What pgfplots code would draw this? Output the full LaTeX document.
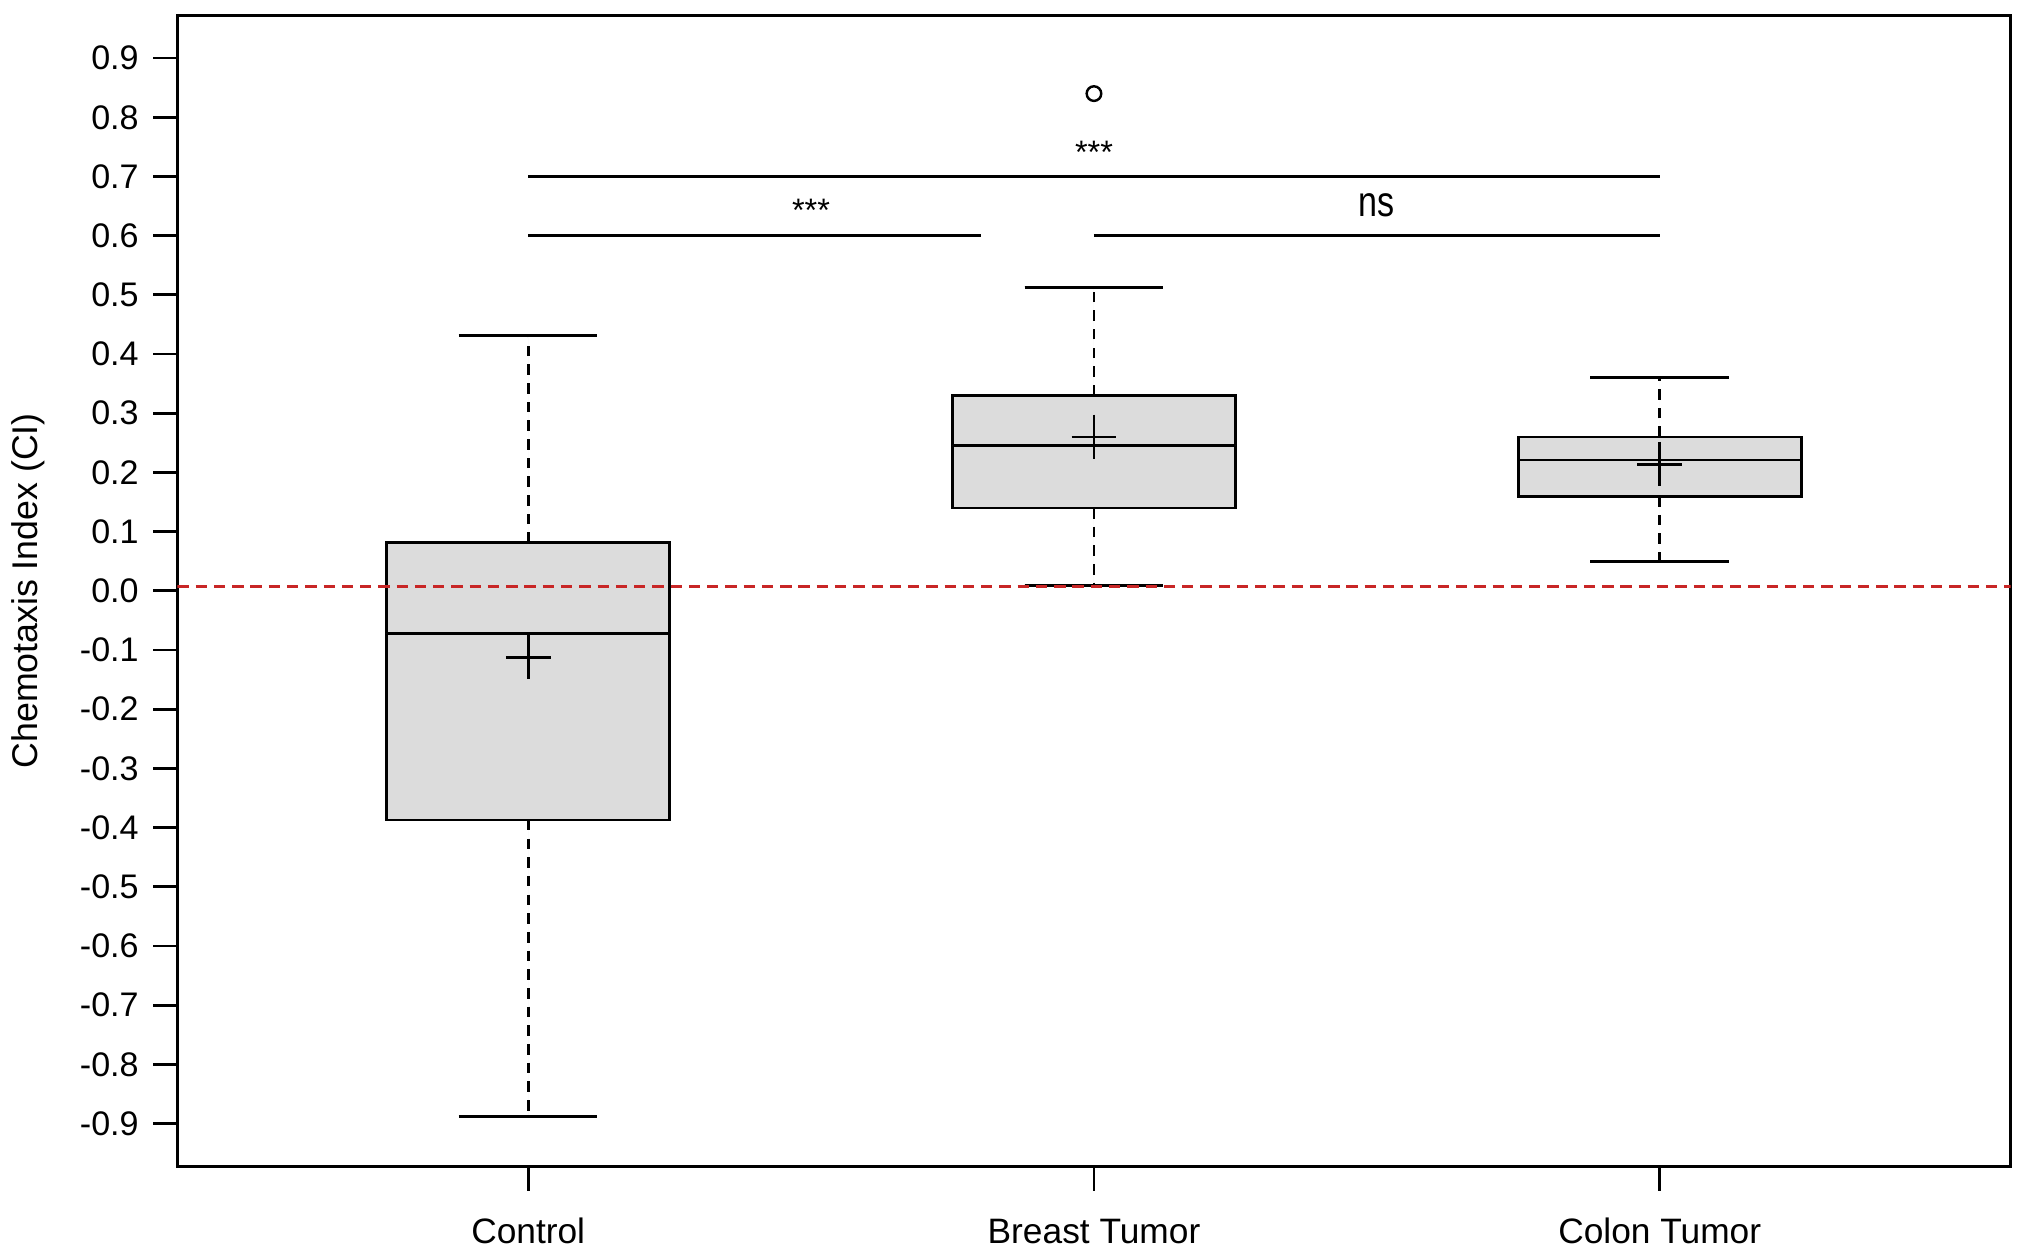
\documentclass[border=0pt]{standalone}
\usepackage{fontspec}
\setmainfont{Liberation Sans}
\usepackage{graphicx}
\usepackage{pgfplots}
\pgfplotsset{compat=1.18}
\usepgfplotslibrary{statistics}
\definecolor{boxgray}{RGB}{220,220,220}
\definecolor{refred}{RGB}{200,38,38}
\begin{document}
\begin{tikzpicture}
\path[use as bounding box] (-43.7pt,-20.8pt) rectangle (456.4pt,287.3pt);
\begin{axis}[
  at={(0pt,0pt)}, anchor=south west,
  scale only axis, width=451.6pt, height=283.5pt,
  xmin=0.38, xmax=3.62, ymin=-0.972, ymax=0.972,
  axis line style={line width=0.7pt},
  tick align=outside, tick pos=left,
  major tick length=6pt,
  every tick/.style={black,line width=0.7pt},
  xtick={1,2,3}, xticklabels={Control,Breast Tumor,Colon Tumor},
  ytick={-0.9,-0.8,-0.7,-0.6,-0.5,-0.4,-0.3,-0.2,-0.1,0,0.1,0.2,0.3,0.4,0.5,0.6,0.7,0.8,0.9},
  yticklabels={-0.9,-0.8,-0.7,-0.6,-0.5,-0.4,-0.3,-0.2,-0.1,0.0,0.1,0.2,0.3,0.4,0.5,0.6,0.7,0.8,0.9},
  yticklabel style={font=\fontsize{8.4}{10}\selectfont},
  xticklabel style={font=\fontsize{8.7}{10}\selectfont, yshift=-1.0pt, text height=1.6ex, text depth=0.3ex},
  ylabel={Chemotaxis Index (CI)},
  every axis y label/.style={at={(axis description cs:-0.0813,0.5)}, rotate=90, anchor=center, font=\fontsize{8.8}{10}\selectfont},
  boxplot/draw direction=y,
  boxplot/every whisker/.style={dash pattern=on 2.6pt off 2pt},
]
\addplot[draw=black, line width=0.7pt, fill=boxgray, solid,
  boxplot prepared={draw position=1, lower whisker=-0.888, lower quartile=-0.387,
  median=-0.072, upper quartile=0.081, upper whisker=0.431, box extend=0.5, whisker extend=0.245}]
  coordinates {};
\addplot[draw=black, line width=0.7pt, fill=boxgray, solid,
  boxplot prepared={draw position=2, lower whisker=0.009, lower quartile=0.140,
  median=0.245, upper quartile=0.330, upper whisker=0.512, box extend=0.5, whisker extend=0.245}]
  coordinates {};
\addplot[draw=black, line width=0.7pt, fill=boxgray, solid,
  boxplot prepared={draw position=3, lower whisker=0.050, lower quartile=0.160,
  median=0.221, upper quartile=0.260, upper whisker=0.361, box extend=0.5, whisker extend=0.245}]
  coordinates {};
% solid whisker caps
\addplot[black, line width=0.7pt] coordinates {(0.8775,-0.888) (1.1225,-0.888)};
\addplot[black, line width=0.7pt] coordinates {(0.8775,0.431) (1.1225,0.431)};
\addplot[black, line width=0.7pt] coordinates {(1.8775,0.009) (2.1225,0.009)};
\addplot[black, line width=0.7pt] coordinates {(1.8775,0.512) (2.1225,0.512)};
\addplot[black, line width=0.7pt] coordinates {(2.8775,0.050) (3.1225,0.050)};
\addplot[black, line width=0.7pt] coordinates {(2.8775,0.361) (3.1225,0.361)};
% means
\addplot[only marks, mark=+, mark size=5.5pt, mark options={black,line width=0.7pt}]
  coordinates {(1,-0.112) (2,0.260) (3,0.214)};
% outlier
\addplot[only marks, mark=o, mark size=1.8pt, mark options={black,line width=0.6pt}]
  coordinates {(2,0.840)};
% reference line
\addplot[refred, line width=0.75pt, dash pattern=on 2.8pt off 1.7pt]
  coordinates {(0.38,0.008) (3.62,0.008)};
% significance lines
\addplot[black, line width=0.7pt] coordinates {(1,0.70) (3,0.70)};
\addplot[black, line width=0.7pt] coordinates {(1,0.60) (1.8,0.60)};
\addplot[black, line width=0.7pt] coordinates {(2,0.60) (3,0.60)};
\node[font=\fontsize{8}{9}\selectfont] at (axis cs:1.5,0.642) {***};
\node[font=\fontsize{8}{9}\selectfont] at (axis cs:2,0.740) {***};
\node[font=\fontsize{10.5}{12}\selectfont] at (axis cs:2.5,0.652) {\scalebox{0.8}[1]{ns}};
\end{axis}
\end{tikzpicture}
\end{document}
